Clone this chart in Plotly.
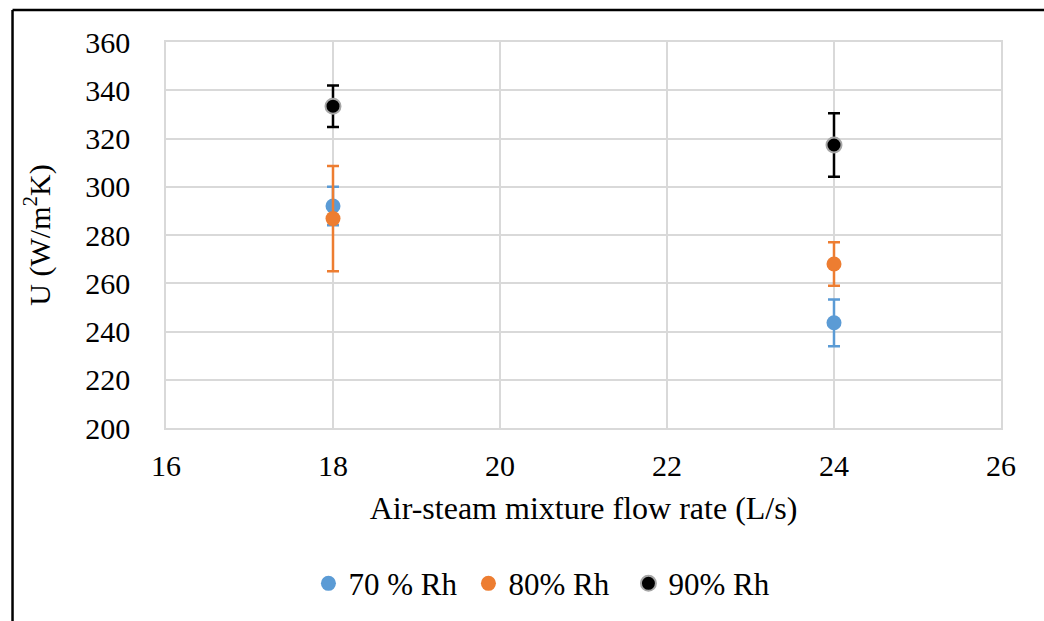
import plotly.graph_objects as go

flow = [18, 24]
u70 = [292.0, 243.6]
err70 = [8.0, 9.7]
u80 = [286.8, 268.0]
err80 = [21.8, 9.0]
u90 = [333.4, 317.3]
err90 = [8.6, 13.2]

series = [
    ("70 % Rh", u70, err70, "#5B9BD5", "#5B9BD5", "#5B9BD5"),
    ("80% Rh", u80, err80, "#ED7D31", "#ED7D31", "#ED7D31"),
    ("90% Rh", u90, err90, "#000000", "#A6A6A6", "#000000"),
]

fig = go.Figure()
for name, y, e, col, lcol, ecol in series:
    fig.add_trace(go.Scatter(
        x=flow, y=y, mode="markers", name=name,
        marker=dict(size=15, color=col, line=dict(color=lcol, width=2 if lcol != col else 0)),
        error_y=dict(type="data", array=e, visible=True, color=ecol, thickness=2.5, width=6),
    ))

font = "Liberation Serif"
fig.update_layout(
    width=1044, height=621,
    margin=dict(l=166, r=43, t=42, b=192),
    paper_bgcolor="white", plot_bgcolor="white",
    font=dict(family=font, size=30, color="black"),
    xaxis=dict(range=[16, 26], dtick=2, tick0=16, showgrid=True, gridcolor="#D9D9D9", gridwidth=1.5,
               showline=True, linecolor="#D9D9D9", linewidth=1.5, mirror=True, zeroline=False,
               ticks="outside", ticklen=10, tickcolor="rgba(0,0,0,0)",
               tickfont=dict(family=font, size=30, color="black"),
               title=dict(text="Air-steam mixture flow rate (L/s)",
                          font=dict(family=font, size=32, color="black"), standoff=16)),
    yaxis=dict(range=[200, 360], dtick=20, tick0=200, showgrid=True, gridcolor="#D9D9D9", gridwidth=1.5,
               showline=True, linecolor="#D9D9D9", linewidth=1.5, mirror=True, zeroline=False,
               ticks="outside", ticklen=28, tickcolor="rgba(0,0,0,0)",
               tickfont=dict(family=font, size=30, color="black"),
               title=dict(text="U (W/m<sup>2</sup>K)",
                          font=dict(family=font, size=30, color="black"), standoff=26)),
    legend=dict(orientation="h", x=0.458, xanchor="center", y=-0.33, yanchor="top",
                font=dict(family=font, size=31, color="black"), itemwidth=30, tracegroupgap=0,
                entrywidth=115, entrywidthmode="pixels"),
    showlegend=True,
)

# outer frame (left and top edges)
fig.add_shape(type="line", xref="paper", yref="paper", x0=-0.1838, x1=-0.1838, y0=1.0827, y1=-0.6,
              line=dict(color="black", width=2.5))
fig.add_shape(type="line", xref="paper", yref="paper", x0=-0.1838, x1=1.2, y0=1.0827, y1=1.0827,
              line=dict(color="black", width=2.5))

fig.write_html("out.html")
